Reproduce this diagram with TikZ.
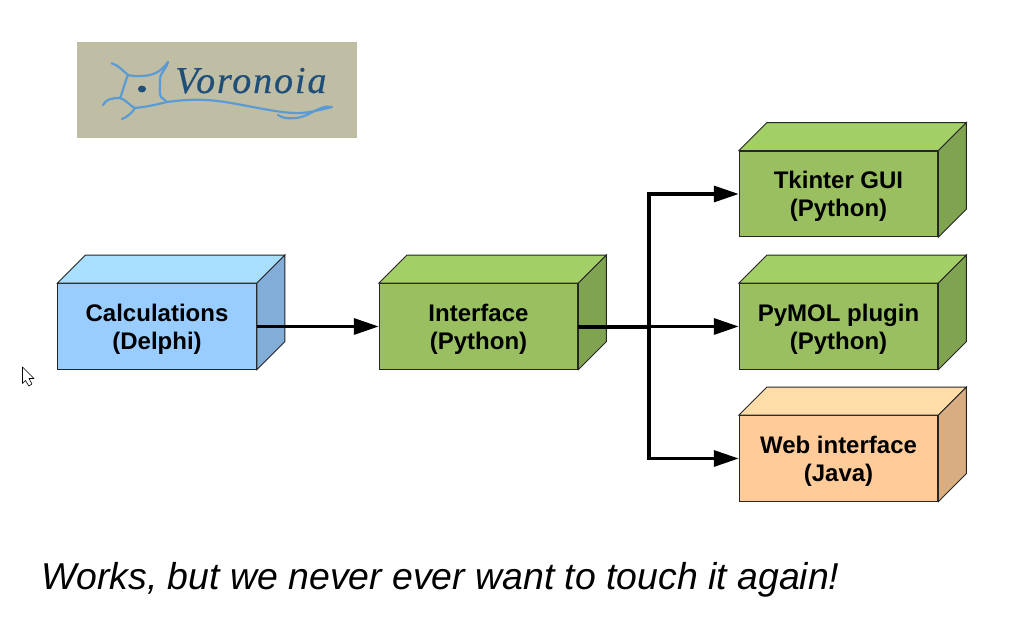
\documentclass[tikz,border=0pt]{standalone}
\usepackage{fontspec}
\setmainfont{Liberation Sans}
\newfontfamily\logofont[ItalicFeatures={FakeBold=0.4},LetterSpace=5]{Liberation Serif}
\usetikzlibrary{arrows.meta,calc}
\definecolor{bluef}{HTML}{99CCFF}\definecolor{bluet}{HTML}{A8DFFF}\definecolor{blues}{HTML}{82ADD9}
\definecolor{greenf}{HTML}{99BF60}\definecolor{greent}{HTML}{A3CF67}\definecolor{greens}{HTML}{80A352}
\definecolor{orangef}{HTML}{FFCC99}\definecolor{oranget}{HTML}{FFDDA8}\definecolor{oranges}{HTML}{D9AD82}
\definecolor{logobg}{HTML}{BFBDA3}\definecolor{logoline}{HTML}{5B9BD5}\definecolor{logotext}{HTML}{1F4E79}
\tikzset{
  face/.style={draw=black!85,line width=1pt,line join=miter},
  front/.style={face,minimum width=198.5pt,minimum height=85.5pt,inner sep=0pt,align=center,
    font=\fontsize{24}{28}\selectfont\bfseries},
  conn/.style={line width=3.3pt,draw=black,-{Triangle[length=25pt,width=16pt]},line join=miter},
  neuron/.style={draw=logoline,line width=2.2pt,line cap=round,line join=round},
}
\newcommand{\cuboid}[7]{%
  \node[front,fill=#4] (#1) at (#2,#3) {\rule{0pt}{22pt}#7};
  \draw[face,fill=#5] (#1.north west) -- ++(28,28) -- ($(#1.north east)+(28,28)$) -- (#1.north east) -- cycle;
  \draw[face,fill=#6] (#1.north east) -- ++(28,28) -- ($(#1.south east)+(28,28)$) -- (#1.south east) -- cycle;
}
\begin{document}
\begin{tikzpicture}[x=1pt,y=1pt]
\useasboundingbox (0,0) rectangle (1018,642);
\fill[white] (0,0) rectangle (1018,642);
% logo
\fill[logobg] (77,504) rectangle (357,600);
\draw[neuron] (111.7,578.7) .. controls (118,577) and (122,572) .. (128,567) .. controls (135,565) and (145,566) .. (150,567) .. controls (158,569) and (164,574) .. (168,580);
\draw[neuron] (128,567) .. controls (125,560) and (123,551) .. (120,544);
\draw[neuron] (168,580) .. controls (166,572) and (160,570) .. (160,562) .. controls (160,555) and (159,548) .. (161,545) -- (167,540);
\draw[neuron] (103,537) .. controls (106,543) and (112,544) .. (120,544) .. controls (125,543) and (130,536) .. (135,534) .. controls (145,535) and (155,537) .. (167,540)
  .. controls (190,543) and (205,543) .. (225,540) .. controls (255,535) and (275,530) .. (293,529)
  .. controls (305,528) and (320,532) .. (332,535) .. controls (326,537) and (318,533) .. (307,527)
  .. controls (298,523) and (285,522) .. (278,527);
\draw[neuron] (135,534) .. controls (132,529) and (127,525) .. (122,523);
\fill[logotext] (142,553) ellipse (4pt and 3.4pt);
\node[anchor=base west,inner sep=0pt,text=logotext,font=\logofont\fontsize{38}{38}\selectfont\itshape] (logo) at (175,549) {Voronoia};
% boxes
\cuboid{calc}{157}{315.5}{bluef}{bluet}{blues}{Calculations\\(Delphi)}
\cuboid{iface}{478.5}{315.5}{greenf}{greent}{greens}{Interface\\(Python)}
\cuboid{tk}{838.5}{448}{greenf}{greent}{greens}{Tkinter GUI\\(Python)}
\cuboid{pymol}{838.5}{315.5}{greenf}{greent}{greens}{PyMOL plugin\\(Python)}
\cuboid{web}{838.5}{183.5}{orangef}{oranget}{oranges}{Web interface\\(Java)}
% connectors
\coordinate (bus) at (649,314.7);
\draw[conn] (calc.east) -- (iface.west);
\draw[conn] (iface.east) -- (pymol.west);
\draw[conn] ([yshift=-0.8pt]iface.east) -- (bus) |- (tk.west);
\draw[conn] ([yshift=-0.8pt]iface.east) -- (bus) |- (web.west);
% cursor
\draw[black,fill=white,line width=0.6pt,line join=round] (22.5,275) -- (22.5,258.5) -- (25.5,261.5) -- (28.8,256) -- (32,258) -- (29,263.5) -- (34,263.5) -- cycle;
% caption
\node[anchor=base west,inner sep=0pt,font=\fontsize{37.4}{37.4}\selectfont\itshape] (caption) at (41,52.5) {Works, but we never ever want to touch it again!};
\end{tikzpicture}
\end{document}
